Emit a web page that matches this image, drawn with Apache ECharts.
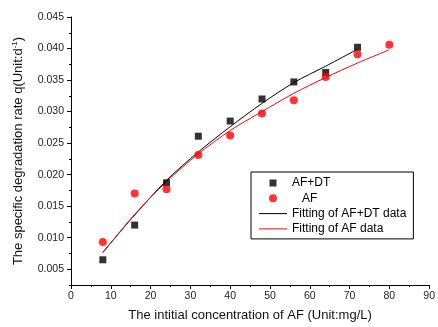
<!DOCTYPE html>
<html>
<head>
<meta charset="utf-8">
<script src="https://cdn.jsdelivr.net/npm/echarts@6/dist/echarts.min.js"></script>
<style>
  html, body { margin: 0; padding: 0; background: #fff; }
  #chart { width: 438px; height: 327px; }
</style>
</head>
<body>
<div id="chart"></div>
<script>
// measured points
const concAFDT = [8, 16, 24, 32, 40, 48, 56, 64, 72];
const rateAFDT = [0.0065, 0.0120, 0.0187, 0.0261, 0.0285, 0.0320, 0.0347, 0.0362, 0.0402];
const concAF = [8, 16, 24, 32, 40, 48, 56, 64, 72, 80];
const rateAF = [0.0093, 0.0170, 0.0177, 0.0231, 0.0262, 0.0297, 0.0318, 0.0355, 0.0391, 0.0406];

// fitted curves
const fitAFDT = [0.0077, 0.0136, 0.0191, 0.0236, 0.0276, 0.0313, 0.0346, 0.0372, 0.0399];
const fitAF = [0.0076, 0.0137, 0.0189, 0.0233, 0.0270, 0.0300, 0.0329, 0.0354, 0.0377, 0.0398];

const yTicks = [0.005, 0.010, 0.015, 0.020, 0.025, 0.030, 0.035, 0.040, 0.045];

const FONT = "'Liberation Sans', Arial, sans-serif";
const pairs = (xs, ys) => xs.map((x, i) => [x, ys[i]]);

// legend icons drawn in a 28x8 box (the leading moves fix the box size)
const ICON_SQUARE = 'path://M0,0M28,8M10.5,0.5L17.5,0.5L17.5,7.5L10.5,7.5Z';
const ICON_LINE = 'path://M0,0M28,8M0,3.5L28,3.5L28,4.5L0,4.5Z';

const chart = echarts.init(document.getElementById('chart'));

const option = {
  animation: false,
  backgroundColor: '#fff',
  textStyle: { fontFamily: FONT },
  grid: [
    { left: 71, right: 7, top: 17, bottom: 42 },
    { left: 71, right: 7, top: 17, bottom: 42 } // only for the minor y ticks
  ],
  legend: {
    orient: 'vertical',
    left: 251,
    top: 172,
    padding: [5, 7, 4, 8],
    itemWidth: 28,
    itemHeight: 8,
    itemGap: 3.3,
    symbolKeepAspect: true,
    borderColor: '#000',
    borderWidth: 1,
    textStyle: { fontSize: 12, color: '#000', fontFamily: FONT },
    formatter: name => (name === 'AF' ? '   AF' : name),
    data: [
      { name: 'AF+DT', icon: ICON_SQUARE },
      { name: 'AF', icon: 'circle' },
      { name: 'Fitting of AF+DT data', icon: ICON_LINE },
      { name: 'Fitting of AF data', icon: ICON_LINE }
    ]
  },
  xAxis: [
    {
      type: 'value',
      gridIndex: 0,
      min: 0,
      max: 90,
      interval: 10,
      name: 'The intitial concentration of AF (Unit:mg/L)',
      nameLocation: 'middle',
      nameGap: 24,
      nameTextStyle: { fontSize: 13, color: '#111', fontFamily: FONT },
      axisLine: { lineStyle: { color: '#000', width: 1 } },
      axisTick: { inside: false, length: 4, lineStyle: { color: '#000' } },
      minorTick: { show: true, splitNumber: 2, length: 2, lineStyle: { color: '#000' } },
      axisLabel: { fontSize: 10.5, color: '#222', margin: 6 },
      splitLine: { show: false }
    },
    {
      type: 'value',
      gridIndex: 1,
      min: 0,
      max: 90,
      show: false
    }
  ],
  yAxis: [
    {
      type: 'value',
      gridIndex: 0,
      min: 0.0025,
      max: 0.045,
      name: 'The specific degradation rate q(Unit:d{sup|-1})',
      nameLocation: 'middle',
      nameGap: 42,
      nameTextStyle: {
        fontSize: 13,
        color: '#111',
        fontFamily: FONT,
        lineHeight: 16,
        rich: { sup: { fontSize: 8, lineHeight: 8, verticalAlign: 'top', color: '#111', fontFamily: FONT } }
      },
      axisLine: { show: true, lineStyle: { color: '#000', width: 1 } },
      axisTick: { show: true, length: 4, customValues: yTicks, lineStyle: { color: '#000' } },
      axisLabel: {
        fontSize: 10.5,
        color: '#222',
        margin: 7,
        customValues: yTicks,
        formatter: v => v.toFixed(3)
      },
      splitLine: { show: false }
    },
    {
      type: 'value',
      gridIndex: 1,
      min: 0.0025,
      max: 0.045,
      interval: 0.0025,
      axisLine: { show: false },
      axisTick: { show: true, length: 2, lineStyle: { color: '#000' } },
      axisLabel: { show: false },
      splitLine: { show: false }
    }
  ],
  series: [
    {
      name: 'Fitting of AF+DT data',
      type: 'line',
      smooth: 0.3,
      symbol: 'none',
      lineStyle: { color: '#000', width: 1 },
      itemStyle: { color: '#000' },
      data: pairs(concAFDT, fitAFDT),
      z: 2
    },
    {
      name: 'Fitting of AF data',
      type: 'line',
      smooth: 0.3,
      symbol: 'none',
      lineStyle: { color: '#ff0000', width: 1 },
      itemStyle: { color: '#ff0000' },
      data: pairs(concAF, fitAF),
      z: 2
    },
    {
      name: 'AF+DT',
      type: 'scatter',
      symbol: 'rect',
      symbolSize: 7,
      itemStyle: { color: '#000' },
      data: pairs(concAFDT, rateAFDT),
      z: 3
    },
    {
      name: 'AF',
      type: 'scatter',
      symbol: 'circle',
      symbolSize: 8,
      itemStyle: { color: '#ff0000' },
      data: pairs(concAF, rateAF),
      z: 3
    }
  ]
};

chart.setOption(option);
</script>
</body>
</html>
